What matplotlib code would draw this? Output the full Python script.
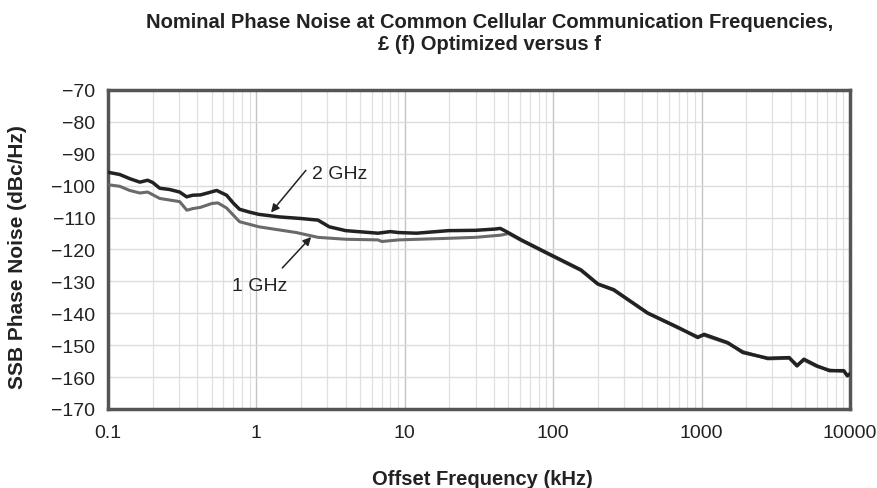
import matplotlib
matplotlib.use("Agg")
import matplotlib.pyplot as plt
from matplotlib.ticker import FixedLocator, LogLocator, NullFormatter

plt.rcParams['font.family'] = ['Liberation Sans', 'DejaVu Sans']

# offset frequency (kHz) and SSB phase noise (dBc/Hz)
freq_2ghz = [0.1, 0.12, 0.14, 0.164, 0.185, 0.2, 0.223, 0.26, 0.304, 0.339, 0.372,
             0.42, 0.46, 0.54, 0.63, 0.7, 0.77, 0.9, 1.04, 1.43, 2.0, 2.6, 3.1, 4.0,
             6.6, 8.0, 9.1, 12, 19.7, 30, 40.6, 44, 48, 61, 92, 154, 200, 256, 433, 700,
             943, 1040, 1500, 1900, 2800, 3900, 4400, 4900, 6000, 7300, 9100, 9600, 10000]
noise_2ghz = [-95.8, -96.5, -97.8, -98.9, -98.3, -99.0, -100.8, -101.2, -102.0, -103.5, -103.0,
              -102.9, -102.4, -101.5, -103.0, -105.5, -107.4, -108.3, -109.0, -109.8, -110.3,
              -110.8, -112.9, -114.1, -114.9, -114.4, -114.7, -114.9, -114.1, -114.0, -113.6,
              -113.4, -114.3, -117.0, -121.2, -126.4, -130.8, -132.6, -139.9, -144.5, -147.6,
              -146.6, -149.2, -152.3, -154.1, -153.9, -156.5, -154.4, -156.5, -158.0, -158.0,
              -159.6, -159.0]

freq_1ghz = [0.1, 0.12, 0.14, 0.164, 0.185, 0.223, 0.26, 0.304, 0.34, 0.372, 0.42, 0.5,
             0.55, 0.63, 0.77, 1.04, 1.86, 2.6, 4.0, 6.6, 7.0, 9.1, 19.7, 30, 44.6, 50,
             61, 92, 154, 200, 256, 433, 700, 943, 1040, 1500, 1900, 2800, 3900, 4400,
             4900, 6000, 7300, 9100, 9600, 10000]
noise_1ghz = [-99.7, -100.2, -101.5, -102.3, -102.0, -104.0, -104.5, -105.0, -107.7, -107.2,
              -106.8, -105.6, -105.4, -107.0, -111.3, -112.9, -114.7, -116.2, -116.8, -117.0,
              -117.5, -117.0, -116.5, -116.2, -115.5, -115.0, -117.2, -121.4, -126.6, -130.9,
              -132.8, -140.0, -144.7, -147.3, -146.9, -149.4, -152.0, -154.3, -154.1, -156.2,
              -154.7, -156.7, -157.8, -158.2, -159.4, -159.2]

x_ticks = [0.1, 1, 10, 100, 1000, 10000]
x_labels = ['0.1', '1', '10', '100', '1000', '10000']
y_ticks = list(range(-170, -69, 10))
y_labels = ['\u2212%d' % abs(v) for v in y_ticks]

title_lines = ['Nominal Phase Noise at Common Cellular Communication Frequencies,',
               '\u00a3 (f) Optimized versus f']

ink = '#222222'

fig = plt.figure(figsize=(8.78, 4.89), dpi=100)
ax = fig.add_axes([0.123, 0.1616, 0.845, 0.6524])

ax.plot(freq_1ghz, noise_1ghz, color='#6a6a6a', lw=2.2, zorder=3)
ax.plot(freq_2ghz, noise_2ghz, color=ink, lw=2.5, zorder=4)

ax.set_xscale('log')
ax.set_xlim(0.1, 10000)
ax.set_ylim(-170, -70)
ax.xaxis.set_major_locator(FixedLocator(x_ticks))
ax.set_xticklabels(x_labels)
ax.xaxis.set_minor_locator(LogLocator(base=10, subs=range(2, 10), numticks=20))
ax.xaxis.set_minor_formatter(NullFormatter())
ax.set_yticks(y_ticks)
ax.set_yticklabels(y_labels)

ax.grid(which='major', axis='x', color='#c4c4c4', lw=1.0)
ax.grid(which='minor', axis='x', color='#e0e0e0', lw=0.9)
ax.grid(which='major', axis='y', color='#dcdcdc', lw=1.0)
ax.set_axisbelow(True)

for s in ax.spines.values():
    s.set_color('#555555')
    s.set_linewidth(2.5)
ax.tick_params(which='both', length=0, labelsize=14, colors=ink)
ax.tick_params(axis='x', pad=11)
ax.tick_params(axis='y', pad=9)

fig.text(0.5495, 0.0082, 'Offset Frequency (kHz)', ha='center', va='baseline',
         fontsize=14.5, fontweight='bold', color=ink)
fig.text(0.0194, 0.4734, 'SSB Phase Noise (dBc/Hz)', ha='center', va='center', rotation=90,
         fontsize=15, fontweight='bold', color=ink)
fig.text(0.558, 0.9427, title_lines[0], ha='center', va='baseline',
         fontsize=14.5, fontweight='bold', color=ink)
fig.text(0.558, 0.8978, title_lines[1], ha='center', va='baseline',
         fontsize=14.5, fontweight='bold', color=ink)

arrow = dict(arrowstyle='-|>', color=ink, lw=1.1, mutation_scale=12, shrinkA=0, shrinkB=0)
ax.text(2.38, -97.7, '2 GHz', fontsize=14, color=ink, ha='left', va='baseline')
ax.annotate('', xy=(1.255, -108.4), xytext=(2.156, -95.2), arrowprops=arrow)
ax.text(0.69, -132.6, '1 GHz', fontsize=14, color=ink, ha='left', va='baseline')
ax.annotate('', xy=(2.34, -116.1), xytext=(1.495, -125.8), arrowprops=arrow)

fig.savefig('out.png', dpi=100)
